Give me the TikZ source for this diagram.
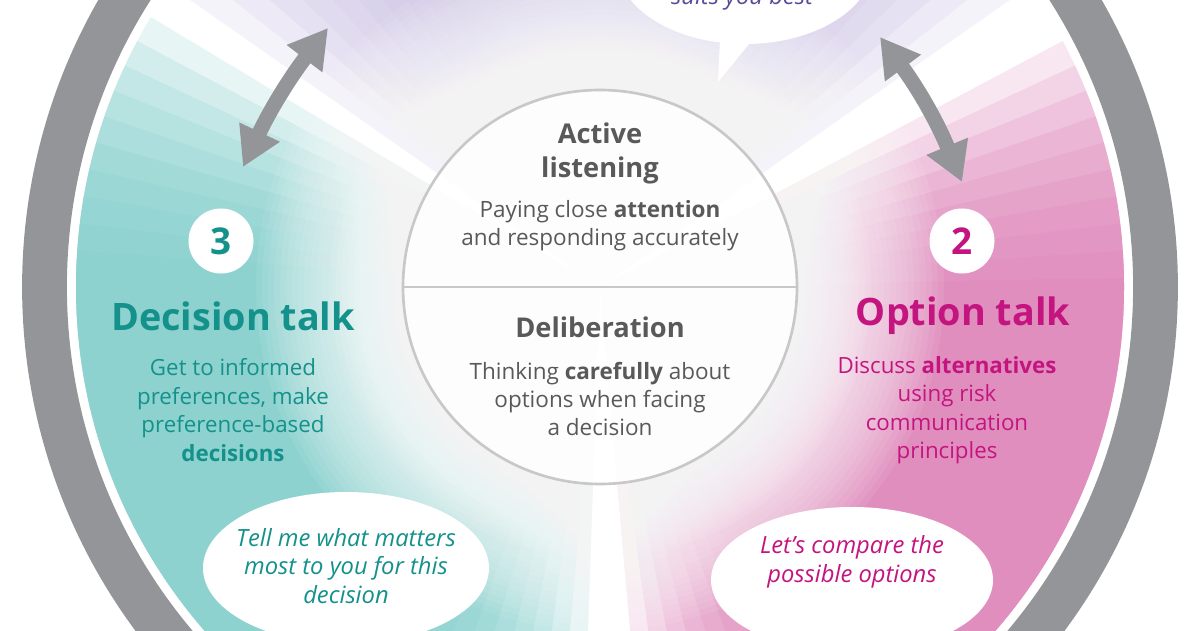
\documentclass[tikz,border=0pt]{standalone}
\usepackage{fontspec}
\setmainfont{Open Sans}
\usetikzlibrary{arrows.meta}

\definecolor{ringgray}{HTML}{939598}
\definecolor{tealwash}{HTML}{80CECB}
\definecolor{pinkwash}{HTML}{DE81B7}
\definecolor{lilacwash}{HTML}{CCC3E5}
\definecolor{tealtext}{HTML}{14918B}
\definecolor{pinktext}{HTML}{C4147F}
\definecolor{lilactext}{HTML}{5B4A9B}
\definecolor{midtext}{HTML}{595959}
\definecolor{midline}{HTML}{C8C8C8}

% one washed sector of the disc, softened at both edges
\newcommand{\washsector}[3]{%
  \foreach \k in {0,...,9}{%
    \fill[#1, fill opacity=0.19] (c) -- ++({#2-3*\k}:560)
      arc[start angle={#2-3*\k}, end angle={#3+3*\k}, radius=560] -- cycle;}}

\begin{document}
\begin{tikzpicture}[x=0.02cm, y=0.02cm,
    stagehead/.style={font=\fontsize{21.5}{24}\selectfont\bfseries},
    stagebody/.style={font=\fontsize{12.7}{16.2}\selectfont, align=center},
    stagenum/.style={circle, fill=white, minimum size=37pt, inner sep=0pt,
      font=\fontsize{21}{21}\selectfont\bfseries},
    midhead/.style={font=\fontsize{15.5}{19.3}\selectfont\bfseries, text=midtext, align=center},
    midbody/.style={font=\fontsize{12.8}{15.9}\selectfont, text=midtext, align=center},
    quote/.style={font=\fontsize{13.5}{16.2}\selectfont\itshape, align=center},
    twoway/.style={ringgray, line width=8.5pt, >={Triangle[width=24pt,length=22pt]}, <->}]
  \useasboundingbox (0,0) rectangle (1200,630);
  \coordinate (c) at (600,343);

  % Outer ring
  \draw[ringgray, line width=25.5pt] (c) circle[radius=555.5];

  % Washed disc
  \begin{scope}
    \clip (c) circle[radius=524];
    \fill[white] (c) circle[radius=524];
    \washsector{lilacwash}{62}{118}
    \washsector{tealwash}{176}{241}
    \washsector{pinkwash}{-58}{1}
    % whiten towards the middle
    \foreach \r in {344,338,...,180}
      \fill[white, fill opacity=0.075] (c) circle[radius=\r];
    \foreach \r in {270,264,...,198}
      \fill[white, fill opacity=0.08] (c) circle[radius=\r];
  \end{scope}

  % Speech bubbles
  \fill[white] (745,666) ellipse (128 and 80);
  \fill[white] (720,592) -- (718,548) -- (754,592) -- cycle;
  \fill[white] (346,62) ellipse (143 and 76);
  \fill[white] (852,50) ellipse (141 and 73);
  \node[quote, text=lilactext, anchor=base] (best) at (742,625) {suits you best};
  \node[quote, text=tealtext] (matters) at (346,64) {Tell me what matters\\most to you for this\\decision};
  \node[quote, text=pinktext] (compare) at (852,68) {Let’s compare the\\possible options};

  % Centre circle
  \fill[white, fill opacity=0.85] (c) circle[radius=197];
  \draw[midline, line width=1.5pt] (c) circle[radius=197];
  \path (c) ++(180:197) coordinate (cw) (c) ++(0:197) coordinate (ce);
  \draw[midline, line width=1.5pt] (cw) -- (ce);
  \node[midhead] (listen) at (600,477) {Active\\listening};
  \node[midbody] (listentxt) at (600,404) {Paying close \textbf{attention}\\and responding accurately};
  \node[midhead] (delib) at (600,303) {Deliberation};
  \node[midbody] (delibtxt) at (600,231) {Thinking \textbf{carefully} about\\options when facing\\a decision};

  % Stage 3
  \node[stagenum, text=tealtext] (three) at (221,389) {3};
  \node[stagehead, text=tealtext] (decision) at (233,314) {Decision talk};
  \node[stagebody, text=tealtext] (decisiontxt) at (233,220) {Get to informed\\preferences, make\\preference-based\\\textbf{decisions}};

  % Stage 2
  \node[stagenum, text=pinktext] (two) at (962,389) {2};
  \node[stagehead, text=pinktext] (option) at (963,314) {Option talk};
  \node[stagebody, text=pinktext] (optiontxt) at (947,220) {Discuss \textbf{alternatives}\\using risk\\communication\\principles};

  % Arrows between stages
  \coordinate (la) at (243,463);
  \coordinate (lb) at (328,602);
  \coordinate (ra) at (962,448);
  \coordinate (rb) at (880,593);
  \draw[twoway] (la) to[bend left=6] (lb);
  \draw[twoway] (ra) to[bend right=7] (rb);
\end{tikzpicture}
\end{document}
